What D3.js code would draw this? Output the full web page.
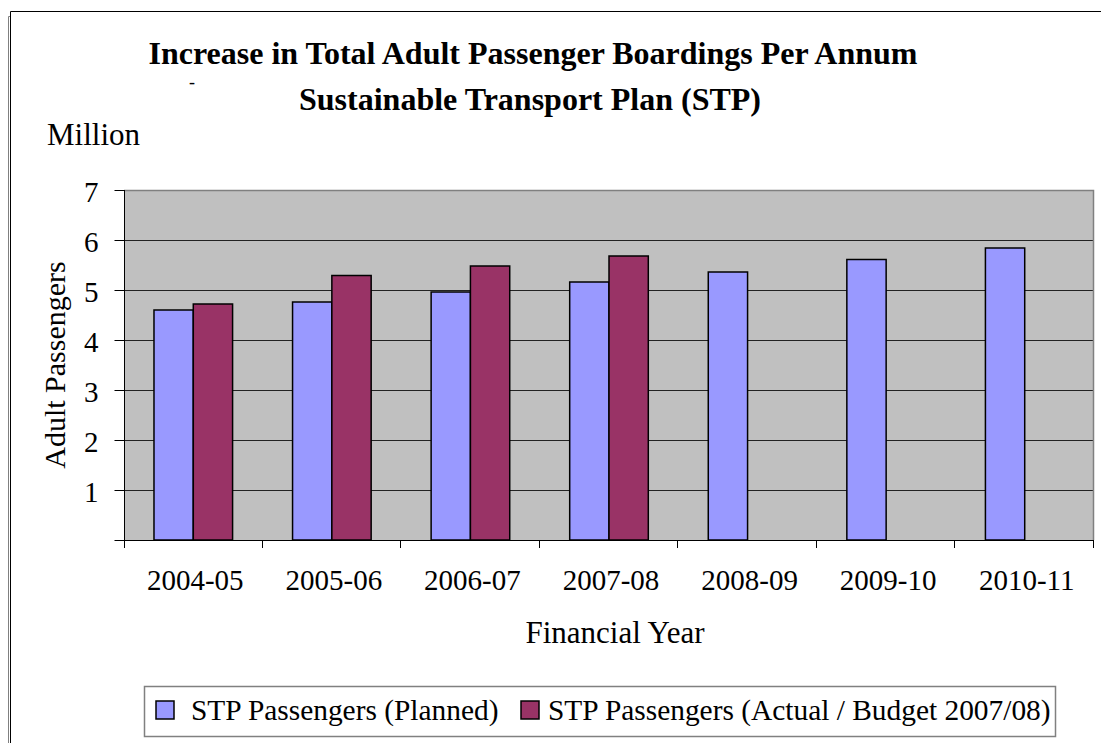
<!DOCTYPE html>
<html>
<head>
    <title>Increase in Total Adult Passenger Boardings Per Annum</title>
    <style>
        body { margin: 0; background: #fff; }
        text { font-family: "Liberation Serif", "Times New Roman", Times, serif; fill: #000; }
        .axis path { display: none; }
        .axis line { stroke: #000; }
    </style>
    <script src="https://d3js.org/d3.v7.min.js"></script>
</head>
<body>
    <div id="chart"></div>
    <script>
        const years = ["2004-05", "2005-06", "2006-07", "2007-08", "2008-09", "2009-10", "2010-11"];
        const planned = [4.60, 4.76, 4.96, 5.16, 5.36, 5.61, 5.84];
        const actual = [4.72, 5.29, 5.48, 5.68, null, null, null];
        const seriesNames = ["STP Passengers (Planned)", "STP Passengers (Actual / Budget 2007/08)"];
        const seriesColors = ["#9999ff", "#993366"];
        const yTicks = [0, 1, 2, 3, 4, 5, 6, 7];

        const width = 1101, height = 743;
        const plot = { left: 124, right: 1094, top: 190, bottom: 540 };

        const svg = d3.select("#chart").append("svg")
            .attr("width", width)
            .attr("height", height);

        // outer chart frame (cut off at right/bottom)
        svg.append("path")
            .attr("d", "M10.5,743 V11.5 H1101")
            .attr("fill", "none").attr("stroke", "#000");
        svg.append("path")
            .attr("d", "M8.5,743 V16.5 H10")
            .attr("fill", "none").attr("stroke", "#808080");

        const x0 = d3.scaleBand().domain(years).range([plot.left, plot.right]);
        const x1 = d3.scaleBand().domain([0, 1]).range([0, x0.bandwidth()]).paddingOuter(0.763);
        const y = d3.scaleLinear().domain([0, 7]).range([plot.bottom, plot.top]);

        // plot background
        svg.append("rect")
            .attr("x", plot.left).attr("y", plot.top)
            .attr("width", plot.right - plot.left).attr("height", plot.bottom - plot.top)
            .attr("fill", "#c0c0c0");

        // gridlines
        svg.append("g").selectAll("line")
            .data(yTicks.filter(d => d > 0 && d < 7))
            .join("line")
            .attr("x1", plot.left).attr("x2", plot.right)
            .attr("y1", d => Math.round(y(d)) + 0.5).attr("y2", d => Math.round(y(d)) + 0.5)
            .attr("stroke", "#222");

        // top and right border
        svg.append("path")
            .attr("d", `M${plot.left},${plot.top + 0.5} H${plot.right - 0.5} V${plot.bottom}`)
            .attr("fill", "none").attr("stroke", "#808080").attr("stroke-width", 1.5);

        // bars
        const series = [planned, actual];
        series.forEach((vals, si) => {
            svg.append("g").selectAll("rect")
                .data(vals.map((v, i) => ({ year: years[i], v })).filter(d => d.v != null))
                .join("rect")
                .attr("x", d => x0(d.year) + x1(si))
                .attr("y", d => y(d.v))
                .attr("width", x1.bandwidth())
                .attr("height", d => y(0) - y(d.v))
                .attr("fill", seriesColors[si])
                .attr("stroke", "#000")
                .attr("stroke-width", 1.5);
        });

        // y axis
        const yAxis = svg.append("g")
            .attr("class", "axis")
            .attr("transform", `translate(${plot.left + 0.5},0)`)
            .call(d3.axisLeft(y).tickValues(yTicks).tickSize(10).tickPadding(16).tickFormat(d => d === 0 ? "" : d));
        yAxis.selectAll("text").attr("font-size", 29).attr("dy", "0.38em");
        svg.append("line")
            .attr("x1", plot.left + 0.5).attr("x2", plot.left + 0.5)
            .attr("y1", plot.top).attr("y2", plot.bottom + 8)
            .attr("stroke", "#000");

        // x axis
        svg.append("line")
            .attr("x1", plot.left).attr("x2", plot.right)
            .attr("y1", plot.bottom + 0.5).attr("y2", plot.bottom + 0.5)
            .attr("stroke", "#000");
        svg.append("g").selectAll("line")
            .data(years.slice(1).concat(["end"]))
            .join("line")
            .attr("x1", (d, i) => Math.round(i < years.length - 1 ? x0(d) : plot.right) - 0.5)
            .attr("x2", (d, i) => Math.round(i < years.length - 1 ? x0(d) : plot.right) - 0.5)
            .attr("y1", plot.bottom).attr("y2", plot.bottom + 8)
            .attr("stroke", "#000");
        svg.append("g").selectAll("text")
            .data(years)
            .join("text")
            .attr("x", d => x0(d) + x0.bandwidth() / 2 + 2)
            .attr("y", 590)
            .attr("text-anchor", "middle")
            .attr("font-size", 29)
            .text(d => d);

        // titles
        svg.append("text")
            .attr("x", 533).attr("y", 64)
            .attr("text-anchor", "middle")
            .attr("font-size", 32).attr("font-weight", "bold")
            .text("Increase in Total Adult Passenger Boardings Per Annum");
        svg.append("text")
            .attr("x", 192).attr("y", 88)
            .attr("text-anchor", "middle")
            .attr("font-size", 18)
            .text("-");
        svg.append("text")
            .attr("x", 530).attr("y", 110)
            .attr("text-anchor", "middle")
            .attr("font-size", 32).attr("font-weight", "bold")
            .text("Sustainable Transport Plan (STP)");
        svg.append("text")
            .attr("x", 47).attr("y", 145)
            .attr("font-size", 31)
            .text("Million");

        svg.append("text")
            .attr("transform", `translate(65,${(plot.top + plot.bottom) / 2}) rotate(-90)`)
            .attr("text-anchor", "middle")
            .attr("font-size", 30)
            .text("Adult Passengers");
        svg.append("text")
            .attr("x", (plot.left + plot.right) / 2 + 6).attr("y", 643)
            .attr("text-anchor", "middle")
            .attr("font-size", 31)
            .text("Financial Year");

        // legend
        const legend = svg.append("g");
        legend.append("rect")
            .attr("x", 144.5).attr("y", 686.5).attr("width", 911).attr("height", 50)
            .attr("fill", "#fff").attr("stroke", "#808080").attr("stroke-width", 1.5);
        const legendX = [156, 521];
        seriesNames.forEach((name, i) => {
            legend.append("rect")
                .attr("x", legendX[i]).attr("y", 701)
                .attr("width", 18).attr("height", 18)
                .attr("fill", seriesColors[i]).attr("stroke", "#000").attr("stroke-width", 1.5);
            legend.append("text")
                .attr("x", legendX[i] + (i === 0 ? 35 : 27)).attr("y", 720)
                .attr("font-size", 29.4)
                .text(name);
        });
    </script>
</body>
</html>
